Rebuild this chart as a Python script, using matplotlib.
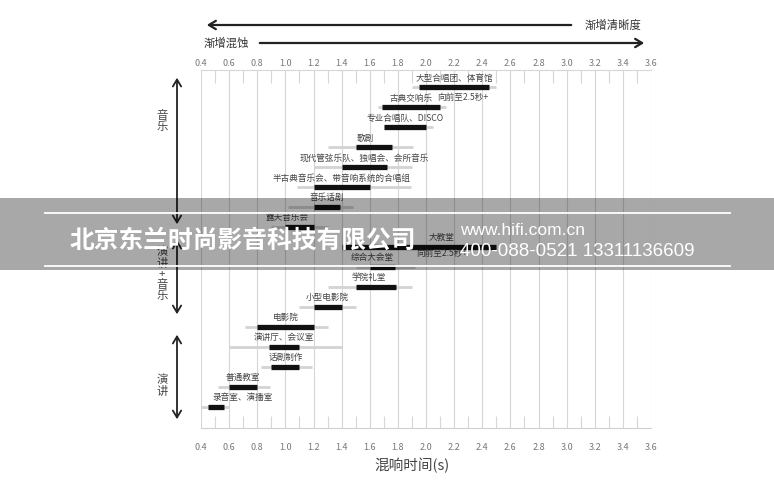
import matplotlib
matplotlib.use("Agg")
import matplotlib.pyplot as plt
from matplotlib.patches import Rectangle, FancyArrowPatch
from matplotlib.lines import Line2D

plt.rcParams['font.family'] = ['Noto Sans CJK SC', 'DejaVu Sans']

# venues, top to bottom
venues = [
    "大型合唱团、体育馆", "古典交响乐", "专业合唱队、DISCO", "歌剧",
    "现代管弦乐队、独唱会、会所音乐", "半古典音乐会、带音响系统的合唱组", "音乐话剧",
    "露天音乐会", "大教堂", "综合大会堂", "学院礼堂", "小型电影院",
    "电影院", "演讲厅、会议室", "话剧制作", "普通教室", "录音室、演播室",
]
# recommended reverb time (black bars)
best_lo = [1.95, 1.69, 1.70, 1.50, 1.40, 1.20, 1.20, 1.00, 1.40, 1.60, 1.50, 1.20, 0.80, 0.88, 0.90, 0.60, 0.45]
best_hi = [2.45, 2.10, 2.00, 1.76, 1.72, 1.60, 1.39, 1.20, 2.50, 1.78, 1.79, 1.40, 1.20, 1.10, 1.10, 0.80, 0.56]
# acceptable range (grey lines)
range_lo = [1.90, 1.66, 1.70, 1.30, 1.20, 1.08, 1.02, 0.90, 1.40, 1.50, 1.30, 1.10, 0.71, 0.60, 0.83, 0.52, 0.40]
range_hi = [2.50, 2.14, 2.05, 1.91, 1.90, 1.89, 1.48, 1.30, 2.50, 1.92, 1.90, 1.50, 1.30, 1.40, 1.19, 0.89, 0.60]

NOTE = "向前至2.5秒+"
x_ticks = [0.4, 0.6, 0.8, 1.0, 1.2, 1.4, 1.6, 1.8, 2.0, 2.2, 2.4, 2.6, 2.8, 3.0, 3.2, 3.4, 3.6]

W, H = 774, 480


def fx(px):
    return px / W


def fy(py):
    return 1 - py / H


def fig_arrow(fig, p0, p1, style, lw):
    fig.add_artist(FancyArrowPatch(
        (fx(p0[0]), fy(p0[1])), (fx(p1[0]), fy(p1[1])), transform=fig.transFigure,
        arrowstyle=style + ",head_length=5,head_width=3", lw=lw, color="#222222",
        mutation_scale=1))


fig = plt.figure(figsize=(7.74, 4.8), dpi=100)
ax = fig.add_axes([fx(201), fy(428), fx(651) - fx(201), fy(70) - fy(428)])

ax.set_xlim(0.4, 3.6)
ax.set_ylim(17.06, -0.85)
ax.set_yticks([])
for x in x_ticks:
    ax.axvline(x, color="#d6d6d6", lw=0.8, zorder=0)
tick_labels = [f"{v:.1f}" for v in x_ticks]
ax.set_xticks(x_ticks)
ax.set_xticklabels(tick_labels)
ax.set_xticks([v + 0.1 for v in x_ticks[:-1]], minor=True)
ax.tick_params(axis="x", which="major", length=0, labelsize=6.5, labelcolor="#777777", pad=11)
ax.tick_params(axis="x", which="minor", direction="in", length=9, width=0.8,
               color="#d6d6d6", top=True)
for side in ["left", "right"]:
    ax.spines[side].set_visible(False)
ax.spines["top"].set_color("#d6d6d6")
ax.spines["bottom"].set_color("#cfcfcf")

top = ax.secondary_xaxis("top")
top.set_xticks(x_ticks)
top.set_xticklabels(tick_labels)
top.tick_params(length=0, labelsize=6.5, labelcolor="#777777", pad=1.5)
top.spines["top"].set_visible(False)

rows = list(range(len(venues)))
ax.hlines(rows, range_lo, range_hi, color="#d3d3d3", lw=2.0, capstyle="butt", zorder=2)
ax.hlines(rows, best_lo, best_hi, color="#111111", lw=3.8, capstyle="butt", zorder=3)

label_x = {"歌剧": 1.57, "露天音乐会": 1.01, "大教堂": 2.11, "综合大会堂": 1.62, "学院礼堂": 1.59}
for i, name in enumerate(venues):
    if name == "录音室、演播室":
        ax.text(0.48, i - 0.45, name, ha="left", va="center", fontsize=6.2, color="#444444")
        continue
    x = label_x.get(name, (best_lo[i] + best_hi[i]) / 2)
    ax.text(x, i - 0.45, name, ha="center", va="center", fontsize=6.2, color="#444444")
ax.text(2.26, 1 - 0.45, NOTE, ha="center", va="center", fontsize=6.2, color="#444444")
ax.text(2.11, 8 + 0.33, NOTE, ha="center", va="center", fontsize=6.2, color="#444444")

# top direction arrows
fig_arrow(fig, (574, 25), (204, 25), "->", 1.6)
fig.text(fx(585), fy(25), "渐增清晰度", fontsize=8.2, color="#333333", va="center", ha="left")
fig_arrow(fig, (257, 43), (647, 43), "->", 1.6)
fig.text(fx(204), fy(43), "渐增混蚀", fontsize=8.2, color="#333333", va="center", ha="left")

# left group arrows
groups = [("音\n乐", 75, 227, 121), ("演\n讲\n+\n音\n乐", 237, 317, 274), ("演\n讲", 332, 422, 386)]
for text, y0, y1, ym in groups:
    fig_arrow(fig, (177, y0), (177, y1), "<->", 1.3)
    fig.text(fx(162), fy(ym), text, fontsize=8.2, color="#444444", ha="center", va="center",
             linespacing=1.05)

fig.text(fx(412), fy(465), "混响时间(s)", fontsize=10.5, color="#444444", ha="center", va="center")

# watermark band
fig.add_artist(Rectangle((0, fy(270)), 1, fy(198) - fy(270), transform=fig.transFigure,
                         facecolor="black", alpha=0.34, edgecolor="none", zorder=10))
for yy in (213, 266):
    fig.add_artist(Line2D([fx(45), fx(730)], [fy(yy), fy(yy)], transform=fig.transFigure,
                          color="white", lw=1.3, zorder=11))
fig.text(fx(70), fy(241), "北京东兰时尚影音科技有限公司", fontsize=17.8, fontweight="heavy",
         color="white", ha="left", va="center", zorder=12)
fig.text(fx(460), fy(230), "www.hifi.com.cn", fontsize=12.5, color="white",
         family=["Liberation Sans", "DejaVu Sans"], ha="left", va="center", zorder=12)
fig.text(fx(460), fy(252), "400-088-0521 13311136609", fontsize=13.5, color="white",
         family=["Liberation Sans", "DejaVu Sans"], ha="left", va="center", zorder=12)

fig.savefig("out.png", dpi=100)
